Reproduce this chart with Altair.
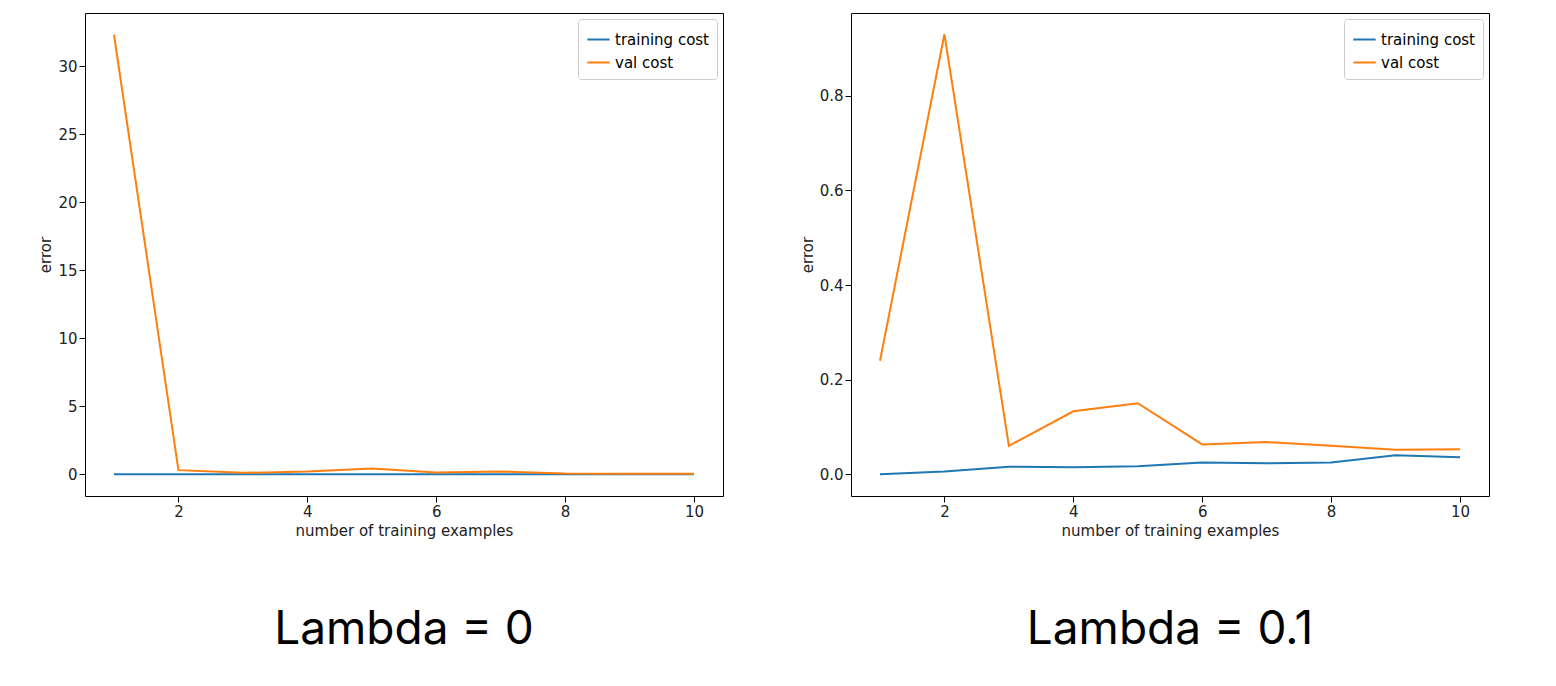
import pandas as pd
import altair as alt

examples = [1, 2, 3, 4, 5, 6, 7, 8, 9, 10]

# lambda = 0
train_l0 = [0.0, 0.0, 0.0, 0.0, 0.0, 0.0, 0.0, 0.0, 0.0, 0.0]
val_l0 = [32.3, 0.3, 0.1, 0.2, 0.42, 0.12, 0.2, 0.05, 0.03, 0.03]

# lambda = 0.1
train_l01 = [0.0, 0.006, 0.016, 0.015, 0.017, 0.025, 0.023, 0.025, 0.04, 0.036]
val_l01 = [0.24, 0.93, 0.06, 0.133, 0.15, 0.063, 0.068, 0.06, 0.052, 0.053]

series = ['training cost', 'val cost']
colors = ['#1f77b4', '#ff7f0e']


def make_frame(train, val):
    return pd.DataFrame({
        'examples': examples * 2,
        'error': train + val,
        'series': ['training cost'] * 10 + ['val cost'] * 10,
    })


def panel(df, y_domain, y_ticks, label):
    return alt.Chart(df).mark_line(strokeWidth=2, clip=True).encode(
        x=alt.X('examples:Q', title='number of training examples',
                scale=alt.Scale(domain=[0.55, 10.45], nice=False, zero=False),
                axis=alt.Axis(values=[2, 4, 6, 8, 10], grid=False)),
        y=alt.Y('error:Q', title='error',
                scale=alt.Scale(domain=y_domain, nice=False, zero=False),
                axis=alt.Axis(values=y_ticks, grid=False)),
        color=alt.Color('series:N', title=None,
                        scale=alt.Scale(domain=series, range=colors),
                        legend=alt.Legend(orient='top-right', symbolType='stroke',
                                          symbolStrokeWidth=2, symbolSize=500,
                                          strokeColor='#cccccc', padding=8,
                                          cornerRadius=3, fillColor='white',
                                          labelFontSize=15, labelFont='DejaVu Sans',
                                          offset=6)),
    ).properties(
        width=638, height=483,
        title=alt.TitleParams(label, orient='bottom', fontSize=46, font='Inter',
                              fontWeight='normal', offset=70, anchor='middle'),
    )


left = panel(make_frame(train_l0, val_l0), [-1.6, 33.9], [0, 5, 10, 15, 20, 25, 30], 'Lambda = 0')
right = panel(make_frame(train_l01, val_l01), [-0.046, 0.975], [0.0, 0.2, 0.4, 0.6, 0.8], 'Lambda = 0.1')

chart = alt.hconcat(left, right, spacing=75).resolve_scale(
    y='independent', x='independent', color='independent'
).resolve_legend(
    color='independent'
).properties(
    background='white', padding={'left': 30, 'top': 4, 'right': 5, 'bottom': 5}
).configure_view(
    stroke='black', strokeWidth=1
).configure_axis(
    labelFont='DejaVu Sans', titleFont='DejaVu Sans', labelFontSize=15,
    titleFontSize=15, titleFontWeight='normal', labelColor='#222', titleColor='#222',
    domain=False, tickColor='black', tickSize=6
)

chart.save('out.html', embed_options={'renderer': 'svg', 'actions': False})
